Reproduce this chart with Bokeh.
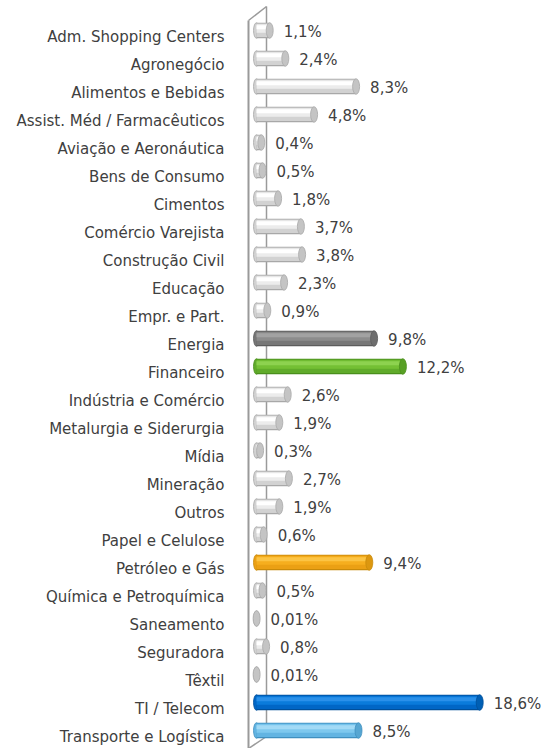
from bokeh.plotting import figure
from bokeh.models import ColumnDataSource, Range1d, FixedTicker
from bokeh.transform import dodge
from bokeh.core.properties import value
from bokeh.embed import file_html
from bokeh.resources import INLINE

categories = [
    "Adm. Shopping Centers", "Agronegócio", "Alimentos e Bebidas",
    "Assist. Méd / Farmacêuticos", "Aviação e Aeronáutica", "Bens de Consumo",
    "Cimentos", "Comércio Varejista", "Construção Civil", "Educação",
    "Empr. e Part.", "Energia", "Financeiro", "Indústria e Comércio",
    "Metalurgia e Siderurgia", "Mídia", "Mineração", "Outros",
    "Papel e Celulose", "Petróleo e Gás", "Química e Petroquímica",
    "Saneamento", "Seguradora", "Têxtil", "TI / Telecom",
    "Transporte e Logística",
]
values = [1.1, 2.4, 8.3, 4.8, 0.4, 0.5, 1.8, 3.7, 3.8, 2.3, 0.9, 9.8, 12.2,
          2.6, 1.9, 0.3, 2.7, 1.9, 0.6, 9.4, 0.5, 0.01, 0.8, 0.01, 18.6, 8.5]
highlight = {"Energia": "gray", "Financeiro": "green", "Petróleo e Gás": "orange",
             "TI / Telecom": "blue", "Transporte e Logística": "lightblue"}

# style palettes: outline, low, mid, high, cap
PAL = {
    "white": ("#a8a8a8", "#d2d2d2", "#ececec", "#ffffff", "#c4c4c4"),
    "gray": ("#5c5c5c", "#777777", "#8c8c8c", "#a2a2a2", "#6e6e6e"),
    "green": ("#4a8f1c", "#60ab2a", "#74c034", "#8dd24f", "#58a025"),
    "orange": ("#c98a0a", "#eba014", "#f6ae1e", "#fcc444", "#dc9710"),
    "blue": ("#004f9a", "#0066c6", "#0a7bdb", "#2a90ea", "#005fb4"),
    "lightblue": ("#3f8fbf", "#62b4e2", "#7ec8ee", "#a2daf6", "#56a6d2"),
}

FONT = "DejaVu Sans"
TEXT_COLOR = "#404040"

def fmt(v):
    s = f"{v:.2f}" if v < 0.1 else f"{v:.1f}"
    return s.replace(".", ",") + "%"

W, H = 541, 748
LEFT = 240
X0_PX = 256.0     # pixel of value 0
XSCALE = 12.0     # px per unit
ROW = 28.0
LAB0 = 36.5       # pixel of first label
x_start = -(X0_PX - LEFT) / XSCALE
x_end = (W - X0_PX) / XSCALE
y_top = -LAB0 / ROW
y_bot = (H - LAB0) / ROW

def px_x(px):
    return x_start + (px - LEFT) / XSCALE

def px_y(py):
    return y_top + py / ROW

n = len(categories)
kinds = [highlight.get(c, "white") for c in categories]
src = ColumnDataSource(dict(
    y=list(range(n)),
    val=values,
    lab=[fmt(v) for v in values],
    c_out=[PAL[k][0] for k in kinds],
    c_low=[PAL[k][1] for k in kinds],
    c_mid=[PAL[k][2] for k in kinds],
    c_high=[PAL[k][3] for k in kinds],
    c_cap=[PAL[k][4] for k in kinds],
))

p = figure(width=W, height=H, output_backend="svg", toolbar_location=None,
           x_range=Range1d(x_start, x_end), y_range=Range1d(y_bot, y_top),
           min_border_left=LEFT, min_border_right=0, min_border_top=0,
           min_border_bottom=0)
p.outline_line_color = None
p.xgrid.visible = False
p.ygrid.visible = False
p.xaxis.visible = False
p.background_fill_color = "white"
p.border_fill_color = "white"

yax = p.yaxis[0]
yax.ticker = FixedTicker(ticks=list(range(n)))
yax.major_label_overrides = {i: c for i, c in enumerate(categories)}
yax.axis_line_color = None
yax.major_tick_line_color = None
yax.minor_tick_line_color = None
yax.major_tick_out = 0
yax.major_tick_in = 0
yax.major_label_standoff = 16
yax.major_label_text_font = FONT
yax.major_label_text_font_size = "15px"
yax.major_label_text_color = TEXT_COLOR

# 3D wall (side panel)
wall = "#9a9a9a"
p.segment(x0=[px_x(248)], y0=[px_y(20)], x1=[px_x(248)], y1=[px_y(748)],
          line_color=wall, line_width=2)
p.segment(x0=[px_x(266)], y0=[px_y(6)], x1=[px_x(266)], y1=[px_y(736)],
          line_color=wall, line_width=1.5)
p.segment(x0=[px_x(248)], y0=[px_y(20)], x1=[px_x(266)], y1=[px_y(6)],
          line_color=wall, line_width=1.5)
p.segment(x0=[px_x(248)], y0=[px_y(748)], x1=[px_x(266)], y1=[px_y(736)],
          line_color=wall, line_width=1.5)

OFF = -6.5 / ROW
BH = 15.5 / ROW

# left rounded end
p.ellipse(x=0, y=dodge("y", OFF), width=6, width_units="screen", height=BH,
          fill_color="c_low", line_color="c_out", line_width=0.8, source=src)
# bar body layers
p.hbar(y=dodge("y", OFF), left=0, right="val", height=BH, fill_color="c_out",
       line_color=None, source=src)
p.hbar(y=dodge("y", OFF - 0.3 / ROW), left=0, right="val", height=BH - 2 / ROW,
       fill_color="c_low", line_color=None, source=src)
p.hbar(y=dodge("y", OFF - 2.0 / ROW), left=0, right="val", height=BH - 7 / ROW,
       fill_color="c_mid", line_color=None, source=src)
p.hbar(y=dodge("y", OFF - 3.2 / ROW), left=0, right="val", height=BH - 11.5 / ROW,
       fill_color="c_high", line_color=None, source=src)
# right end cap
p.ellipse(x="val", y=dodge("y", OFF), width=7, width_units="screen", height=BH,
          fill_color="c_cap", line_color="c_out", line_width=0.8, source=src)

p.text(x="val", y=dodge("y", OFF + 1.5 / ROW), text="lab", x_offset=14,
       text_baseline="middle", text_align="left",
       text_font=value(FONT), text_font_size="15px",
       text_color=TEXT_COLOR, source=src)

open("out.html", "w").write(file_html(p, INLINE))
